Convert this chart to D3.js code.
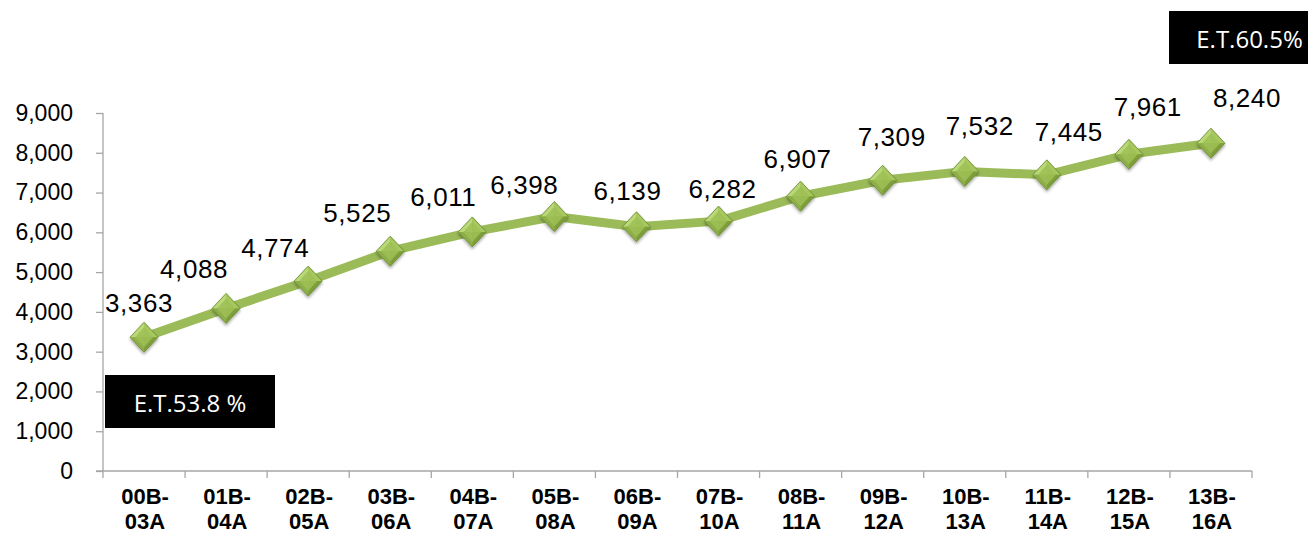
<!DOCTYPE html>
<html>
<head>
<meta charset="utf-8">
<script src="https://cdn.jsdelivr.net/npm/d3@7"></script>
<style>
  html, body { margin: 0; padding: 0; background: #fff; }
  svg { display: block; }
</style>
</head>
<body>
<div id="chart"></div>
<script>
// ---- data ----
const categories = ["00B-03A","01B-04A","02B-05A","03B-06A","04B-07A","05B-08A","06B-09A",
                    "07B-10A","08B-11A","09B-12A","10B-13A","11B-14A","12B-15A","13B-16A"];
const values = [3363, 4088, 4774, 5525, 6011, 6398, 6139, 6282, 6907, 7309, 7532, 7445, 7961, 8240];
const yTicks = [0, 1000, 2000, 3000, 4000, 5000, 6000, 7000, 8000, 9000];
const noteStart = "E.T.53.8 %";
const noteEnd = "E.T.60.5%";

// label nudges (layout only), relative to each point
const labelDx = [-5, -32, -33, -33, -29, -30, -9, 4, -3, 9, 15, 22, 19, 36];
const labelDy = [-25, -30, -24, -29, -26, -23, -27, -23, -28, -34, -36, -34, -38, -36];

// ---- layout ----
const W = 1308, H = 534;
const svg = d3.select("#chart").append("svg").attr("width", W).attr("height", H);

const x = d3.scaleBand().domain(categories).range([103, 1252]).padding(0);
const y = d3.scaleLinear().domain([0, 9000]).range([471, 113]);

const defs = svg.append("defs");
const f = defs.append("filter").attr("id", "shadow").attr("x", "-50%").attr("y", "-50%").attr("width", "200%").attr("height", "200%");
f.append("feDropShadow").attr("dx", 0).attr("dy", 2).attr("stdDeviation", 1.5).attr("flood-color", "#000").attr("flood-opacity", 0.35);

const axisColor = "#a6a6a6";

// y axis
const yAxis = svg.append("g").attr("transform", "translate(103,0)")
  .call(d3.axisLeft(y).tickValues(yTicks).tickSize(7).tickPadding(23).tickFormat(d3.format(",")));
yAxis.select(".domain").attr("stroke", axisColor).attr("stroke-width", 1.3)
  .attr("d", `M0,${y(9000)}V${y(0)}`);
yAxis.selectAll(".tick line").attr("stroke", axisColor).attr("stroke-width", 1.3);
yAxis.selectAll(".tick text").attr("fill", "#000")
  .style("font-family", "Liberation Sans, Arial, sans-serif").style("font-size", "23px");

// x axis
const xAxis = svg.append("g").attr("transform", `translate(0,${y(0)})`);
xAxis.append("line").attr("x1", 96).attr("x2", 1252).attr("y1", 0).attr("y2", 0)
  .attr("stroke", axisColor).attr("stroke-width", 1.3);
const boundaries = categories.map(c => x(c)).concat([x(categories[categories.length - 1]) + x.bandwidth()]);
xAxis.selectAll("line.tk").data(boundaries).join("line").attr("class", "tk")
  .attr("x1", d => d).attr("x2", d => d).attr("y1", 0).attr("y2", 7)
  .attr("stroke", axisColor).attr("stroke-width", 1.3);
const xl = xAxis.selectAll("text.xl").data(categories).join("text").attr("class", "xl")
  .attr("x", d => x(d) + x.bandwidth() / 2 + 1)
  .attr("text-anchor", "middle")
  .style("font-family", "Liberation Sans, Arial, sans-serif")
  .style("font-size", "22px").style("font-weight", "bold").attr("fill", "#000");
xl.append("tspan").attr("x", d => x(d) + x.bandwidth() / 2 + 1).attr("y", 33).text(d => d.split("-")[0] + "-");
xl.append("tspan").attr("x", d => x(d) + x.bandwidth() / 2 + 1).attr("y", 58).text(d => d.split("-")[1]);

// line
const cx = (d, i) => x(categories[i]) + x.bandwidth() / 2;
const line = d3.line().x((d, i) => cx(d, i)).y(d => y(d));
svg.append("path").datum(values).attr("d", line)
  .attr("fill", "none").attr("stroke", "#9bbb59").attr("stroke-width", 9)
  .attr("stroke-linejoin", "round");

// markers (beveled diamonds)
const hw = 14, hh = 15;
const mk = svg.selectAll("g.mk").data(values).join("g").attr("class", "mk")
  .attr("transform", (d, i) => `translate(${cx(d, i)},${y(d)})`)
  .attr("filter", "url(#shadow)");
mk.append("path").attr("d", `M0,${-hh}L${hw},0L0,${hh}L${-hw},0Z`).attr("fill", "#8fb04a");
const facets = [
  { d: `M0,${-hh}L${-hw},0L0,0Z`, c: "#b9d878" },
  { d: `M0,${-hh}L${hw},0L0,0Z`, c: "#a6c85f" },
  { d: `M${-hw},0L0,${hh}L0,0Z`, c: "#8eae48" },
  { d: `M${hw},0L0,${hh}L0,0Z`, c: "#7e9e3b" }
];
facets.forEach(fc => mk.append("path").attr("d", fc.d).attr("fill", fc.c));
mk.append("path").attr("d", `M0,${-hh + 5}L${hw - 5},0L0,${hh - 5}L${-hw + 5},0Z`)
  .attr("fill", "#9dbf55").attr("opacity", 0.85);
mk.append("path").attr("d", `M0,${-hh}L${hw},0L0,${hh}L${-hw},0Z`)
  .attr("fill", "none").attr("stroke", "#6f8d34").attr("stroke-width", 0.8);

// data labels
svg.selectAll("text.dl").data(values).join("text").attr("class", "dl")
  .attr("x", (d, i) => cx(d, i) + labelDx[i])
  .attr("y", (d, i) => y(d) + labelDy[i])
  .attr("text-anchor", "middle")
  .style("font-family", "Liberation Sans, Arial, sans-serif")
  .style("font-size", "26px").style("letter-spacing", "0.6px")
  .attr("fill", "#000")
  .text(d => d3.format(",")(d));

// notes
const notes = [
  { text: noteStart, x0: 105, x1: 275, y0: 375, y1: 428, tx: 190, ty: 412 },
  { text: noteEnd, x0: 1169, x1: 1330, y0: 11, y1: 64, tx: 1249.5, ty: 48 }
];
const ng = svg.selectAll("g.note").data(notes).join("g").attr("class", "note");
ng.append("rect").attr("x", d => d.x0).attr("y", d => d.y0)
  .attr("width", d => d.x1 - d.x0).attr("height", d => d.y1 - d.y0).attr("fill", "#000");
ng.append("text").attr("x", d => d.tx).attr("y", d => d.ty).attr("text-anchor", "middle")
  .style("font-family", "Open Sans, Noto Sans, sans-serif").style("font-size", "24px")
  .attr("fill", "#fff").text(d => d.text);
</script>
</body>
</html>
